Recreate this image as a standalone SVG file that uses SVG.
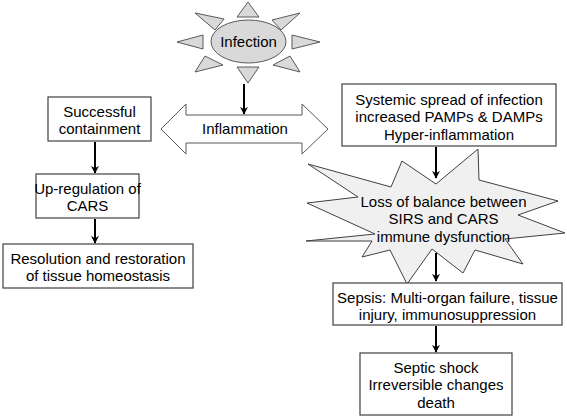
<svg xmlns="http://www.w3.org/2000/svg" width="567" height="417" viewBox="0 0 567 417">
<defs>
<marker id="ah" viewBox="0 0 10 10" refX="9" refY="5" markerWidth="4" markerHeight="5" markerUnits="strokeWidth" orient="auto">
<path d="M0,0 L10,5 L0,10 L3,5 Z" fill="#000"/>
</marker>
<style>
text{font-family:"Liberation Sans",Arial,sans-serif;font-size:15px;fill:#000;text-anchor:middle}
.box{fill:#fff;stroke:#404040;stroke-width:1.2}
.ray{fill:#d9d9d9;stroke:#595959;stroke-width:1}
.con line{stroke:#000;stroke-width:2;marker-end:url(#ah)}
</style>
</defs>
<rect width="567" height="417" fill="#fff"/>
<g id="infection">
<polygon class="ray" points="237,17 259,17 248,2"/>
<polygon class="ray" points="237,67 259,67 248,83"/>
<polygon class="ray" points="203,35 203,49 177,42"/>
<polygon class="ray" points="292,35 292,49 320,42"/>
<polygon class="ray" points="195,13 224,19 215,30"/>
<polygon class="ray" points="300,13 272,20 281,30"/>
<polygon class="ray" points="205,56 223,65 195,72"/>
<polygon class="ray" points="290,56 273,65 300,72"/>
<ellipse class="ray" cx="248.5" cy="41.5" rx="37.5" ry="21.5"/>
<text x="248.5" y="47">Infection</text>
</g>
<g id="inflammation">
<polygon points="161,129 186,104 186,115 302,115 302,104 328,129 302,154 302,143 186,143 186,154" fill="#fff" stroke="#595959" stroke-width="1"/>
<text x="245" y="134">Inflammation</text>
</g>
<g id="containment">
<rect class="box" x="48" y="97" width="103" height="44"/>
<text x="99.5" y="117">Successful</text>
<text x="99.5" y="134">containment</text>
</g>
<g id="upregulation">
<rect class="box" x="36" y="174" width="103" height="44"/>
<text x="87.5" y="194">Up-regulation of</text>
<text x="87.5" y="211">CARS</text>
</g>
<g id="resolution">
<rect class="box" x="3" y="244" width="190" height="44"/>
<text x="98" y="264">Resolution and restoration</text>
<text x="98" y="281">of tissue homeostasis</text>
</g>
<g id="systemic">
<rect class="box" x="342" y="84" width="214" height="62"/>
<text x="449" y="105">Systemic spread of infection</text>
<text x="449" y="122">increased PAMPs &amp; DAMPs</text>
<text x="449" y="140">Hyper-inflammation</text>
</g>
<g id="imbalance">
<polygon points="308,164 391,187 402,161 436,184 478,149 479,180 558,201 518,215 565,233 505,239 523,264 475,250 463,273 432,249 407,284 390,250 362,257 372,241 306,241 375,234 307,203 358,197" fill="#f0f0f0" stroke="#404040" stroke-width="1"/>
<text x="443.5" y="207">Loss of balance between</text>
<text x="443.5" y="224">SIRS and CARS</text>
<text x="443.5" y="242">immune dysfunction</text>
</g>
<g id="sepsis">
<rect class="box" x="333" y="283" width="229" height="42"/>
<text x="447.5" y="303">Sepsis: Multi-organ failure, tissue</text>
<text x="447.5" y="320">injury, immunosuppression</text>
</g>
<g id="shock">
<rect class="box" x="360" y="353" width="152" height="62"/>
<text x="436" y="373">Septic shock</text>
<text x="436" y="390">Irreversible changes</text>
<text x="436" y="408">death</text>
</g>
<g class="con" id="connectors">
<line x1="244" y1="84" x2="244" y2="114"/>
<line x1="95" y1="142" x2="95" y2="173"/>
<line x1="95" y1="219" x2="95" y2="243"/>
<line x1="436" y1="147" x2="436" y2="178"/>
<line x1="436" y1="253" x2="436" y2="281"/>
<line x1="436" y1="326" x2="436" y2="352"/>
</g>
</svg>
